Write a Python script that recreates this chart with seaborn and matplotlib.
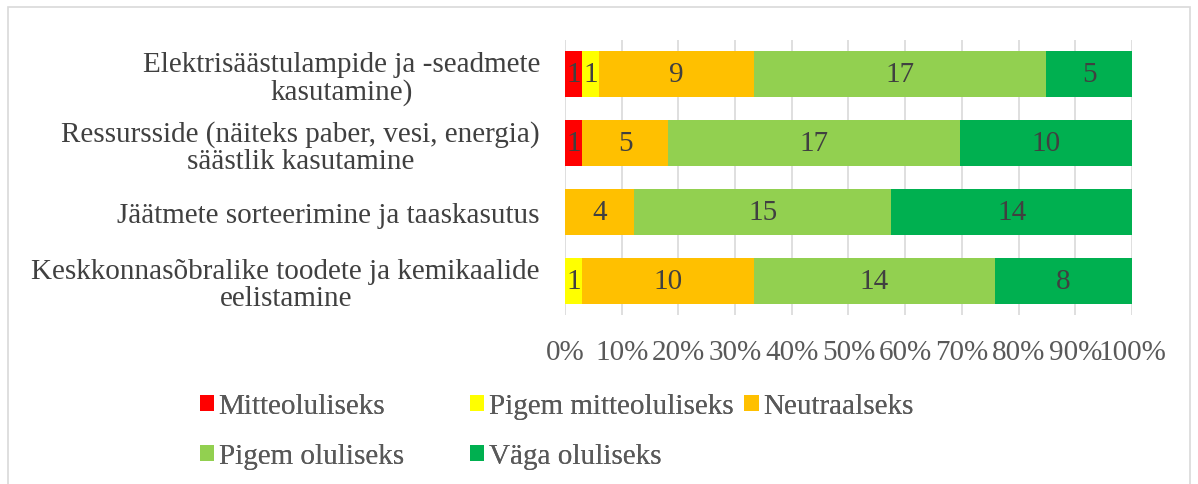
import numpy as np
import pandas as pd
import seaborn as sns
import matplotlib
matplotlib.use("Agg")
import matplotlib.pyplot as plt
from matplotlib.patches import Patch, Rectangle

categories = [
    "Elektrisäästulampide ja -seadmete\nkasutamine)",
    "Ressursside (näiteks paber, vesi, energia)\nsäästlik kasutamine",
    "Jäätmete sorteerimine ja taaskasutus",
    "Keskkonnasõbralike toodete ja kemikaalide\neelistamine",
]
series_names = ["Mitteoluliseks", "Pigem mitteoluliseks", "Neutraalseks",
                "Pigem oluliseks", "Väga oluliseks"]
mitteoluliseks = [1, 1, 0, 0]
pigem_mitteoluliseks = [1, 0, 0, 1]
neutraalseks = [9, 5, 4, 10]
pigem_oluliseks = [17, 17, 15, 14]
vaga_oluliseks = [5, 10, 14, 8]
colors = ["#FF0000", "#FFFF00", "#FFC000", "#92D050", "#00B050"]
tick_labels = ["0%", "10%", "20%", "30%", "40%", "50%", "60%", "70%", "80%", "90%", "100%"]

sns.set_theme(style="white")
plt.rcParams["font.family"] = ["Liberation Serif", "DejaVu Serif"]
FS = 21

vals = np.array([mitteoluliseks, pigem_mitteoluliseks, neutraalseks,
                 pigem_oluliseks, vaga_oluliseks], dtype=float)
totals = vals.sum(axis=0)
pct = vals / totals * 100
cum = np.cumsum(pct, axis=0)

fig = plt.figure(figsize=(11.98, 4.85), dpi=100)
ax = fig.add_axes([0.4716, 0.348, 0.9449 - 0.4716, 0.9155 - 0.348])

for i in range(len(series_names) - 1, -1, -1):
    df = pd.DataFrame({"cat": categories, "v": cum[i]})
    sns.barplot(data=df, x="v", y="cat", orient="h", color=colors[i],
                width=0.67, linewidth=0, saturation=1, ax=ax, zorder=2)

for i in range(len(series_names)):
    for j in range(len(categories)):
        if vals[i, j] > 0:
            ax.text(cum[i, j] - pct[i, j] / 2, j, f"{int(vals[i, j])}",
                    ha="center", va="center", fontsize=FS, color="#404040", zorder=3)

ax.set_xlim(0, 100)
ax.set_ylim(3.5, -0.5)
ax.set_xticks(np.arange(0, 101, 10))
ax.set_xticklabels(tick_labels, fontsize=FS, color="#595959")
ax.tick_params(axis="x", length=0, pad=17)
ax.tick_params(axis="y", length=0, pad=18)
ax.set_yticks(range(len(categories)))
ax.set_yticklabels(categories, fontsize=FS, color="#404040",
                   multialignment="center", linespacing=1.07)
ax.set_xlabel("")
ax.set_ylabel("")
ax.grid(axis="x", color="#D9D9D9", linewidth=1.2, zorder=0)
ax.set_axisbelow(True)
for s in ax.spines.values():
    s.set_visible(False)

# legend entries in equal-width columns
leg_pos = [(0.1545, 0.16), (0.380, 0.16), (0.609, 0.16), (0.1545, 0.057), (0.380, 0.057)]
for name, c, (x, y) in zip(series_names, colors, leg_pos):
    lg = fig.legend(handles=[Patch(facecolor=c, edgecolor="none")], labels=[name],
                    loc="center left", bbox_to_anchor=(x, y), frameon=False,
                    fontsize=FS, handlelength=0.5, handleheight=0.5, handletextpad=0.15,
                    borderpad=0, labelcolor="#595959")
    fig.add_artist(lg)

fig.patches.append(Rectangle((0.007, -0.02), 0.986, 1.003, transform=fig.transFigure,
                             fill=False, edgecolor="#D9D9D9", linewidth=1.2))

fig.savefig("out.png", dpi=100)
